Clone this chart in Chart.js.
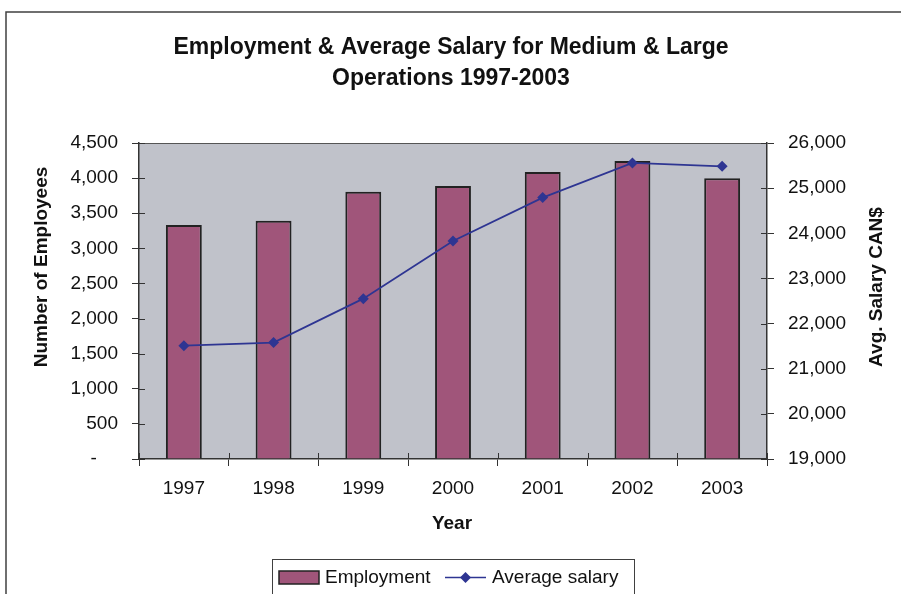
<!DOCTYPE html>
<html>
<head>
<meta charset="utf-8">
<script src="https://cdn.jsdelivr.net/npm/chart.js@4.4.1/dist/chart.umd.min.js"></script>
<style>
  html, body { margin: 0; padding: 0; background: #fff; }
  #wrap { width: 901px; height: 594px; }
</style>
</head>
<body>
<div id="wrap"><canvas id="canvas" width="901" height="594"></canvas></div>
<script>
// data
var years = ['1997', '1998', '1999', '2000', '2001', '2002', '2003'];
var employment = [3332, 3394, 3807, 3888, 4087, 4244, 3997];
var avgSalary = [21511, 21578, 22552, 23830, 24790, 25558, 25484];

var titleLines = ['Employment & Average Salary for Medium & Large', 'Operations 1997-2003'];
var leftTitle = 'Number of Employees';
var rightTitle = 'Avg. Salary CAN$';
var xTitle = 'Year';

var barColor = '#A0557A';
var lineColor = '#2E3592';
var FONT = '"Liberation Sans", Arial, sans-serif';

function fmt(v) {
    return v === 0 ? '-    ' : v.toLocaleString('en-US');
}

// background, plot fill, frame, titles, legend, crossing tick marks
var decor = {
    id: 'decor',
    beforeDraw: function (chart) {
        var ctx = chart.ctx, a = chart.chartArea;
        ctx.save();
        ctx.fillStyle = '#fff';
        ctx.fillRect(0, 0, chart.width, chart.height);
        ctx.strokeStyle = '#404040';
        ctx.lineWidth = 1.5;
        ctx.strokeRect(6, 12, chart.width + 20, chart.height + 20);
        ctx.fillStyle = '#C0C2CA';
        ctx.fillRect(a.left, a.top, a.right - a.left, a.bottom - a.top);
        ctx.restore();
    },
    afterDraw: function (chart) {
        var ctx = chart.ctx, a = chart.chartArea;
        ctx.save();
        // top edge of plot
        ctx.strokeStyle = '#555';
        ctx.lineWidth = 1;
        ctx.beginPath();
        ctx.moveTo(a.left, a.top + 0.5);
        ctx.lineTo(a.right, a.top + 0.5);
        ctx.stroke();

        // inner halves of the tick marks
        ctx.strokeStyle = '#333';
        var y = chart.scales.y, y1 = chart.scales.y1, x = chart.scales.x;
        ctx.beginPath();
        y.ticks.forEach(function (t, i) {
            var p = Math.round(y.getPixelForTick(i)) + 0.5;
            ctx.moveTo(a.left, p); ctx.lineTo(a.left + 6, p);
        });
        y1.ticks.forEach(function (t, i) {
            var p = Math.round(y1.getPixelForTick(i)) + 0.5;
            ctx.moveTo(a.right - 6, p); ctx.lineTo(a.right, p);
        });
        for (var i = 0; i <= years.length; i++) {
            var px = Math.round(x.getPixelForValue(i - 0.5)) + 0.5;
            ctx.moveTo(px, a.bottom - 6); ctx.lineTo(px, a.bottom);
        }
        ctx.stroke();

        // chart title
        ctx.fillStyle = '#111';
        ctx.textAlign = 'center';
        ctx.textBaseline = 'middle';
        ctx.font = 'bold 23px ' + FONT;
        ctx.fillText(titleLines[0], 451, 48);
        ctx.fillText(titleLines[1], 451, 79);

        // axis titles
        ctx.font = 'bold 19px ' + FONT;
        ctx.fillText(xTitle, 452, 524);
        ctx.save();
        ctx.translate(42, 267);
        ctx.rotate(-Math.PI / 2);
        ctx.fillText(leftTitle, 0, 0);
        ctx.restore();
        ctx.save();
        ctx.translate(877, 287);
        ctx.rotate(-Math.PI / 2);
        ctx.fillText(rightTitle, 0, 0);
        ctx.restore();

        // legend
        ctx.strokeStyle = '#404040';
        ctx.lineWidth = 1;
        ctx.strokeRect(272.5, 559.5, 362, 50);
        ctx.fillStyle = barColor;
        ctx.fillRect(279, 571, 40, 13);
        ctx.strokeStyle = '#222';
        ctx.lineWidth = 1.5;
        ctx.strokeRect(279, 571, 40, 13);
        ctx.strokeStyle = lineColor;
        ctx.lineWidth = 1.5;
        ctx.beginPath();
        ctx.moveTo(445, 577.5); ctx.lineTo(486, 577.5);
        ctx.stroke();
        ctx.fillStyle = lineColor;
        ctx.beginPath();
        ctx.moveTo(465.5, 572); ctx.lineTo(471, 577.5); ctx.lineTo(465.5, 583); ctx.lineTo(460, 577.5);
        ctx.closePath();
        ctx.fill();
        ctx.fillStyle = '#111';
        ctx.font = '19px ' + FONT;
        ctx.textAlign = 'left';
        ctx.fillText('Employment', 325, 578);
        ctx.fillText('Average salary', 492, 578);
        ctx.restore();
    }
};

var tickFont = { family: FONT, size: 19 };

var config = {
    type: 'bar',
    data: {
        labels: years,
        datasets: [
            {
                type: 'line',
                label: 'Average salary',
                data: avgSalary,
                yAxisID: 'y1',
                borderColor: lineColor,
                backgroundColor: lineColor,
                borderWidth: 1.8,
                pointStyle: 'rectRot',
                pointRadius: 5.5,
                pointBorderWidth: 0,
                tension: 0,
                order: 0
            },
            {
                label: 'Employment',
                data: employment,
                yAxisID: 'y',
                backgroundColor: barColor,
                borderColor: '#222',
                borderWidth: 2,
                barPercentage: 0.4,
                categoryPercentage: 1,
                order: 1
            }
        ]
    },
    options: {
        responsive: false,
        animation: false,
        layout: { padding: { top: 143, bottom: 85, left: 0, right: 0 } },
        plugins: {
            legend: { display: false },
            title: { display: false },
            tooltip: { enabled: false }
        },
        scales: {
            x: {
                offset: true,
                grid: { offset: true, drawOnChartArea: false, tickLength: 7, color: '#333' },
                border: { color: '#333', width: 1.5 },
                ticks: { font: tickFont, color: '#111', padding: 11 },
                afterFit: function (s) { s.height = 50; }
            },
            y: {
                position: 'left',
                min: 0,
                max: 4500,
                ticks: { stepSize: 500, font: tickFont, color: '#111', padding: 14, callback: fmt },
                grid: { drawOnChartArea: false, tickLength: 7, color: '#333' },
                border: { color: '#333', width: 1.5 },
                afterFit: function (s) { s.width = 139; }
            },
            y1: {
                position: 'right',
                min: 19000,
                max: 26000,
                ticks: { stepSize: 1000, font: tickFont, color: '#111', padding: 14, callback: fmt },
                grid: { drawOnChartArea: false, tickLength: 7, color: '#333' },
                border: { color: '#333', width: 1.5 },
                afterFit: function (s) { s.width = 134; }
            }
        }
    },
    plugins: [decor]
};

window.chart = new Chart(document.getElementById('canvas'), config);
</script>
</body>
</html>
